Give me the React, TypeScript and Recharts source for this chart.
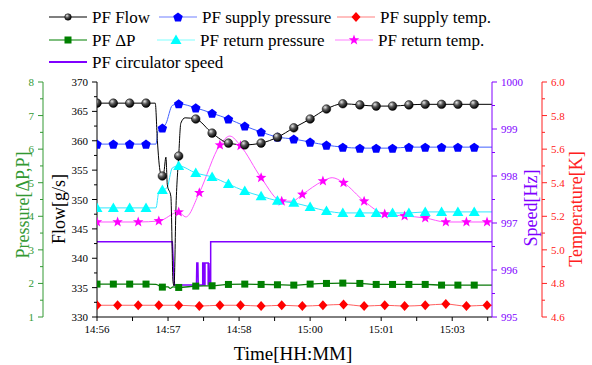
import React from "react";
import { LineChart, Line, XAxis, YAxis } from "recharts";

const FONT = "'Liberation Serif', 'Times New Roman', serif";

const timeLabels = ["14:56", "14:57", "14:58", "15:00", "15:01", "15:03"];
const xTicks = [0, 0.5, 1, 1.5, 2, 2.5, 3, 3.5, 4, 4.5, 5, 5.5];
const flowTicks = [330, 332.5, 335, 337.5, 340, 342.5, 345, 347.5, 350, 352.5, 355, 357.5, 360, 362.5, 365, 367.5, 370];
const pressureTicks = [1, 1.5, 2, 2.5, 3, 3.5, 4, 4.5, 5, 5.5, 6, 6.5, 7, 7.5, 8];
const speedTicks = [995, 995.5, 996, 996.5, 997, 997.5, 998, 998.5, 999, 999.5, 1000];
const tempTicks = [4.6, 4.7, 4.8, 4.9, 5.0, 5.1, 5.2, 5.3, 5.4, 5.5, 5.6, 5.7, 5.8, 5.9, 6.0];

// sample times (minutes from 14:56) where markers are drawn
const markTimesA = [0, 0.23, 0.46, 0.69, 0.92, 1.15, 1.39, 1.62, 1.85, 2.08, 2.31, 2.54, 2.77, 3.0, 3.23, 3.46, 3.7, 3.93, 4.16, 4.39, 4.62, 4.85, 5.08, 5.31];
const markTimesB = [0, 0.29, 0.58, 0.87, 1.15, 1.44, 1.73, 2.02, 2.31, 2.6, 2.89, 3.18, 3.47, 3.76, 4.05, 4.33, 4.62, 4.91, 5.2, 5.49];

// PF Flow [g/s]
const flowMarks = [366.4, 366.4, 366.4, 366.4, 354.0, 357.4, 363.7, 361.3, 359.6, 359.3, 359.6, 360.6, 362.2, 363.7, 365.4, 366.3, 366.1, 365.9, 365.9, 366.1, 366.2, 366.2, 366.2, 366.2];
const flowExtra = [[0.82, 366.4], [0.85, 360.0], [0.89, 354.7], [0.94, 354.5], [0.97, 357.2], [0.99, 352.5], [1.04, 350.5], [1.07, 336.0], [1.085, 335.3], [1.11, 348.0], [1.18, 363.0], [1.24, 363.9], [5.56, 366.2]];

// PF supply pressure
const supplyPMarks = [6.15, 6.15, 6.15, 6.15, 6.63, 7.35, 7.23, 7.07, 6.9, 6.69, 6.51, 6.36, 6.3, 6.21, 6.12, 6.06, 6.03, 6.03, 6.03, 6.06, 6.06, 6.06, 6.06, 6.06];
const supplyPExtra = [[0.83, 6.15], [0.86, 6.55], [0.97, 6.76], [1.06, 7.3], [5.56, 6.06]];

// PF return pressure
const returnPMarks = [4.25, 4.25, 4.25, 4.25, 4.78, 5.5, 5.29, 5.17, 4.96, 4.75, 4.6, 4.46, 4.4, 4.28, 4.16, 4.1, 4.1, 4.1, 4.1, 4.1, 4.13, 4.13, 4.13, 4.13];
const returnPExtra = [[0.83, 4.25], [0.87, 4.72], [0.985, 4.85], [1.06, 5.44], [5.56, 4.13]];

// PF dP
const dpMarks = [1.98, 1.98, 1.98, 1.98, 1.89, 1.88, 1.92, 1.93, 1.97, 1.98, 1.97, 1.96, 1.95, 1.98, 2.0, 2.01, 2.0, 1.97, 1.97, 1.97, 1.97, 1.95, 1.95, 1.95];
const dpExtra = [[0.83, 1.97], [1.0, 1.9], [1.03, 1.85], [1.07, 1.9], [5.56, 1.95]];

// PF supply temp. [K]
const supplyTMarks = [4.67, 4.67, 4.67, 4.67, 4.67, 4.665, 4.67, 4.67, 4.665, 4.67, 4.665, 4.67, 4.675, 4.665, 4.67, 4.665, 4.67, 4.677, 4.665, 4.67];
const supplyTExtra = [[5.56, 4.67]];

// PF return temp. [K]
const returnTMarks = [5.166, 5.166, 5.166, 5.172, 5.225, 5.34, 5.624, 5.62, 5.43, 5.29, 5.33, 5.41, 5.4, 5.29, 5.213, 5.202, 5.19, 5.166, 5.166, 5.166];
const returnTExtra = [[1.25, 5.196], [1.87, 5.678], [2.75, 5.29], [3.31, 5.43], [5.56, 5.166]];

// PF circulator speed [Hz]
const speedPoints = [[0, 996.6], [1.06, 996.6], [1.09, 995.68], [1.4, 995.68], [1.405, 996.15], [1.42, 996.15], [1.425, 995.68], [1.488, 995.68], [1.488, 996.15], [1.5, 996.15], [1.5, 995.68], [1.52, 995.68], [1.52, 996.15], [1.565, 996.15], [1.565, 995.68], [1.575, 996.15], [1.585, 995.68], [1.6, 995.68], [1.6, 996.6], [5.56, 996.6]];

type Pt = { t: number; v: number; m: boolean };

function merge(times: number[], marks: number[], extra: number[][]): Pt[] {
  const pts: Pt[] = times.map((t, i) => ({ t, v: marks[i], m: true }));
  extra.forEach(([t, v]) => pts.push({ t, v, m: false }));
  return pts.sort((a, b) => a.t - b.t);
}

const flowData = merge(markTimesA, flowMarks, flowExtra);
const supplyPData = merge(markTimesA, supplyPMarks, supplyPExtra);
const returnPData = merge(markTimesA, returnPMarks, returnPExtra);
const dpData = merge(markTimesA, dpMarks, dpExtra);
const supplyTData = merge(markTimesB, supplyTMarks, supplyTExtra);
const returnTData = merge(markTimesB, returnTMarks, returnTExtra);
const speedData = speedPoints.map(([t, v]) => ({ t, v }));

const GREEN = "#339933";
const PURPLE = "#8000ff";
const RED = "#ff2020";

function starPoints(cx: number, cy: number, ro: number, ri: number) {
  const pts: string[] = [];
  for (let i = 0; i < 10; i++) {
    const r = i % 2 === 0 ? ro : ri;
    const a = -Math.PI / 2 + (i * Math.PI) / 5;
    pts.push(`${cx + r * Math.cos(a)},${cy + r * Math.sin(a)}`);
  }
  return pts.join(" ");
}

function pentPoints(cx: number, cy: number, r: number) {
  const pts: string[] = [];
  for (let i = 0; i < 5; i++) {
    const a = -Math.PI / 2 + (i * 2 * Math.PI) / 5;
    pts.push(`${cx + r * Math.cos(a)},${cy + r * Math.sin(a)}`);
  }
  return pts.join(" ");
}

function Marker({ shape, cx, cy, grad }: { shape: string; cx: number; cy: number; grad: string }) {
  switch (shape) {
    case "ball":
      return <circle cx={cx} cy={cy} r={4.3} fill={`url(#${grad})`} stroke="#000" strokeWidth={0.5} />;
    case "pentagon":
      return <polygon points={pentPoints(cx, cy + 0.5, 5)} fill="#0000ff" />;
    case "diamond":
      return <polygon points={`${cx},${cy - 5} ${cx + 4.5},${cy} ${cx},${cy + 5} ${cx - 4.5},${cy}`} fill="#ff0000" />;
    case "square":
      return <rect x={cx - 3.5} y={cy - 3.5} width={7} height={7} fill="#008000" />;
    case "triangle":
      return <polygon points={`${cx},${cy - 5.5} ${cx + 5.5},${cy + 4} ${cx - 5.5},${cy + 4}`} fill="#00ffff" />;
    case "star":
      return <polygon points={starPoints(cx, cy, 5.5, 2.3)} fill="#ff00ff" />;
    default:
      return null;
  }
}

const dotFor = (shape: string) => (props: any) => {
  const { cx, cy, payload, index } = props;
  if (!payload?.m || cx == null || cy == null) return <g key={`d${index}`} />;
  return (
    <g key={`d${index}`}>
      <Marker shape={shape} cx={cx} cy={cy} grad="ballGrad" />
    </g>
  );
};

const yTick =
  (side: "left" | "right", color: string, isMajor: (v: number) => boolean, fmt: (v: number) => string) =>
  (props: any) => {
    const { x, y, payload } = props;
    const v = payload.value;
    const major = isMajor(v);
    const len = major ? 5 : 3;
    const dir = side === "left" ? -1 : 1;
    return (
      <g>
        <line x1={x} x2={x + dir * len} y1={y} y2={y} stroke={color} />
        {major && (
          <text
            x={x + dir * 9}
            y={y}
            dy={4}
            textAnchor={side === "left" ? "end" : "start"}
            fill={color}
            fontSize={11}
            fontFamily={FONT}
          >
            {fmt(v)}
          </text>
        )}
      </g>
    );
  };

const legendItems = [
  { label: "PF Flow", color: "#000", shape: "ball", x: 49, y: 17 },
  { label: "PF supply pressure", color: "#7080ff", shape: "pentagon", x: 159, y: 17 },
  { label: "PF supply temp.", color: "#ff8080", shape: "diamond", x: 337, y: 17 },
  { label: "PF \u0394P", color: "#008000", shape: "square", x: 49, y: 40 },
  { label: "PF return pressure", color: "#80ffff", shape: "triangle", x: 157, y: 40 },
  { label: "PF return temp.", color: "#ff80ff", shape: "star", x: 335, y: 40 },
  { label: "PF circulator speed", color: PURPLE, shape: "", x: 49, y: 62 },
];

function Overlay() {
  return (
    <svg width={592} height={365} style={{ position: "absolute", left: 0, top: 0, pointerEvents: "none" }} fontFamily={FONT}>
      <defs>
        <radialGradient id="ballGradL" cx="35%" cy="30%" r="70%">
          <stop offset="0%" stopColor="#e8e8e8" />
          <stop offset="45%" stopColor="#555" />
          <stop offset="100%" stopColor="#000" />
        </radialGradient>
      </defs>
      {legendItems.map((it) => (
        <g key={it.label}>
          <line x1={it.x} x2={it.x + 38} y1={it.y} y2={it.y} stroke={it.color} strokeWidth={it.shape ? 1.2 : 2} />
          {it.shape === "ball" ? (
            <circle cx={it.x + 19} cy={it.y} r={3.3} fill="url(#ballGradL)" stroke="#000" strokeWidth={0.5} />
          ) : (
            it.shape && <Marker shape={it.shape} cx={it.x + 19} cy={it.y} grad="ballGradL" />
          )}
          <text x={it.x + 43} y={it.y} dominantBaseline="central" fontSize={17} fill="#000" fontFamily={FONT}>
            {it.label}
          </text>
        </g>
      ))}
      <text x={23} y={205} transform="rotate(-90 23 205)" textAnchor="middle" dominantBaseline="central" fontSize={18} fill={GREEN} fontFamily={FONT}>
        Pressure[ΔP,P]
      </text>
      <text x={59} y={209} transform="rotate(-90 59 209)" textAnchor="middle" dominantBaseline="central" fontSize={18} fill="#000" fontFamily={FONT}>
        Flow[g/s]
      </text>
      <text x={531} y={208} transform="rotate(-90 531 208)" textAnchor="middle" dominantBaseline="central" fontSize={18} fill={PURPLE} fontFamily={FONT}>
        Speed[Hz]
      </text>
      <text x={576} y={209} transform="rotate(-90 576 209)" textAnchor="middle" dominantBaseline="central" fontSize={18} fill={RED} fontFamily={FONT}>
        Temperature[K]
      </text>
      <text x={293} y={353} textAnchor="middle" dominantBaseline="central" fontSize={19} fill="#000" fontFamily={FONT}>
        Time[HH:MM]
      </text>
    </svg>
  );
}

export default function App() {
  return (
    <div style={{ position: "absolute", left: 0, top: 0, width: 592, height: 365, background: "#fff", fontFamily: FONT }}>
      <LineChart width={592} height={365} margin={{ top: 82, right: 0, bottom: 0, left: 0 }} style={{ fontFamily: FONT }}>
        <defs>
          <radialGradient id="ballGrad" cx="35%" cy="30%" r="70%">
            <stop offset="0%" stopColor="#e8e8e8" />
            <stop offset="45%" stopColor="#555" />
            <stop offset="100%" stopColor="#000" />
          </radialGradient>
        </defs>
        <XAxis
          dataKey="t"
          type="number"
          domain={[0, 5.56]}
          ticks={xTicks}
          interval={0}
          height={48}
          tickSize={4}
          tickMargin={4}
          tickFormatter={(t: number) => (Number.isInteger(t) ? timeLabels[t] : "")}
          tick={{ fill: "#000", fontSize: 11, fontFamily: FONT }}
          axisLine={{ stroke: "#000" }}
          tickLine={{ stroke: "#000" }}
          allowDataOverflow
        />
        <YAxis
          yAxisId="flow"
          orientation="left"
          width={54}
          domain={[330, 370]}
          ticks={flowTicks}
          interval={0}
          tickSize={0}
          tickMargin={0}
          tickLine={false}
          axisLine={{ stroke: "#000" }}
          tick={yTick("left", "#000", (v) => v % 5 === 0, (v) => String(v))}
          allowDataOverflow
        />
        <YAxis
          yAxisId="p"
          orientation="left"
          width={43}
          domain={[1, 8]}
          ticks={pressureTicks}
          interval={0}
          tickSize={0}
          tickMargin={0}
          tickLine={false}
          axisLine={{ stroke: GREEN }}
          tick={yTick("left", GREEN, (v) => Number.isInteger(v), (v) => String(v))}
          allowDataOverflow
        />
        <YAxis
          yAxisId="spd"
          orientation="right"
          width={50}
          domain={[995, 1000]}
          ticks={speedTicks}
          interval={0}
          tickSize={0}
          tickMargin={0}
          tickLine={false}
          axisLine={{ stroke: PURPLE }}
          tick={yTick("right", PURPLE, (v) => Number.isInteger(v), (v) => String(v))}
          allowDataOverflow
        />
        <YAxis
          yAxisId="temp"
          orientation="right"
          width={50}
          domain={[4.6, 6.0]}
          ticks={tempTicks}
          interval={0}
          tickSize={0}
          tickMargin={0}
          tickLine={false}
          axisLine={{ stroke: RED }}
          tick={yTick("right", RED, (v) => Math.round(v * 10) % 2 === 0, (v) => v.toFixed(1))}
          allowDataOverflow
        />
        <Line data={speedData} yAxisId="spd" dataKey="v" type="linear" stroke={PURPLE} strokeWidth={1.5} dot={false} activeDot={false} isAnimationActive={false} />
        <Line data={dpData} yAxisId="p" dataKey="v" type="monotone" stroke="#0a7a0a" strokeWidth={1.3} dot={dotFor("square")} activeDot={false} isAnimationActive={false} />
        <Line data={supplyTData} yAxisId="temp" dataKey="v" type="monotone" stroke="#ff6060" strokeWidth={1} dot={dotFor("diamond")} activeDot={false} isAnimationActive={false} />
        <Line data={returnTData} yAxisId="temp" dataKey="v" type="monotone" stroke="#ff55ff" strokeWidth={1} dot={dotFor("star")} activeDot={false} isAnimationActive={false} />
        <Line data={returnPData} yAxisId="p" dataKey="v" type="monotone" stroke="#30e8ff" strokeWidth={1} dot={dotFor("triangle")} activeDot={false} isAnimationActive={false} />
        <Line data={supplyPData} yAxisId="p" dataKey="v" type="monotone" stroke="#4060ff" strokeWidth={1} dot={dotFor("pentagon")} activeDot={false} isAnimationActive={false} />
        <Line data={flowData} yAxisId="flow" dataKey="v" type="monotone" stroke="#000" strokeWidth={1} dot={dotFor("ball")} activeDot={false} isAnimationActive={false} />
      </LineChart>
      <Overlay />
    </div>
  );
}
